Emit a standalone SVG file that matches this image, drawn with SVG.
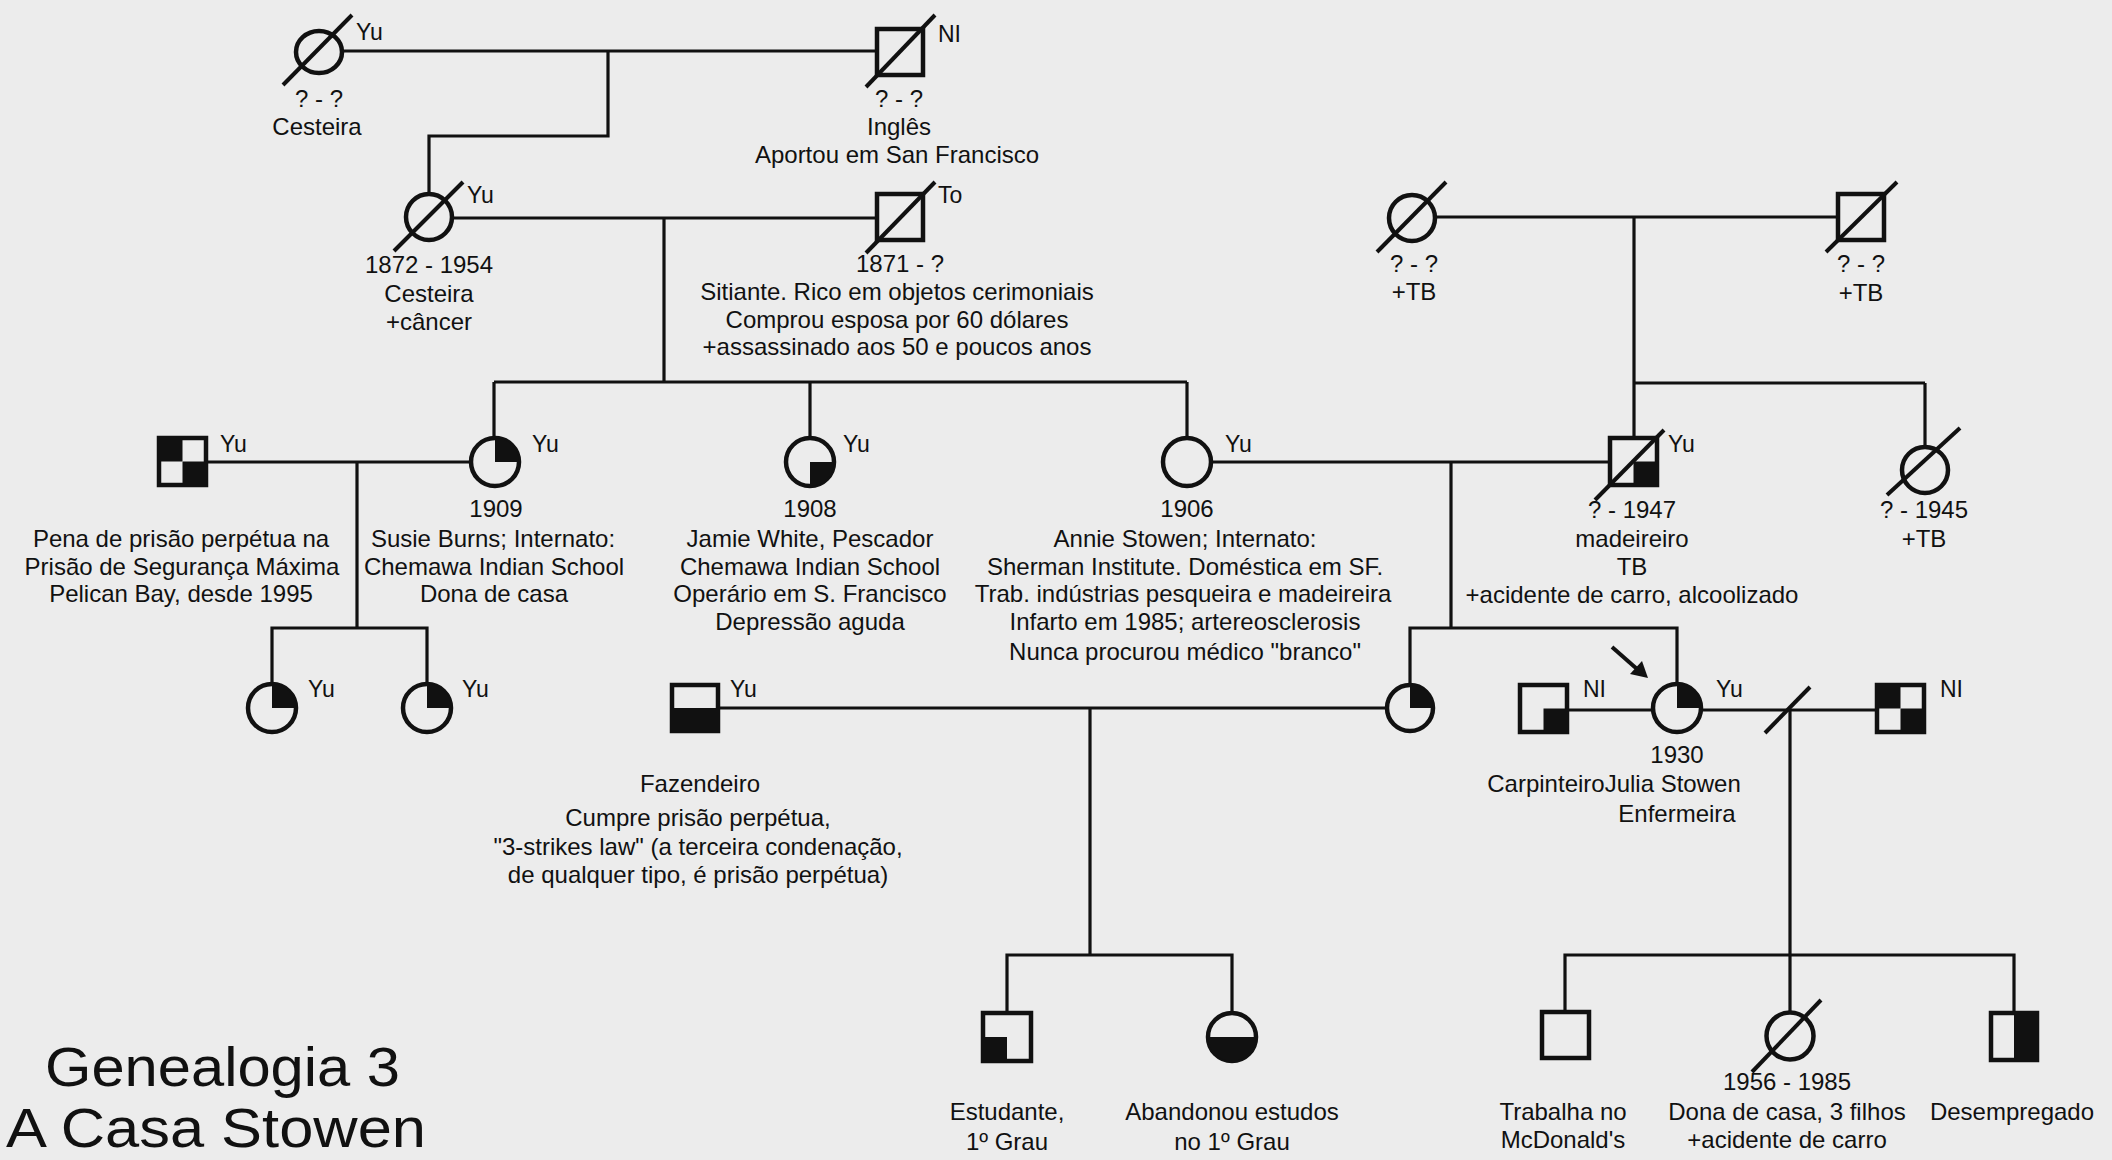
<svg xmlns="http://www.w3.org/2000/svg" width="2112" height="1160" viewBox="0 0 2112 1160">
<style>
.t{font-family:"Liberation Sans",Arial,sans-serif;font-size:24px;fill:#111;text-anchor:middle}
.l{font-family:"Liberation Sans",Arial,sans-serif;font-size:23px;fill:#111;text-anchor:start}
.title{font-family:"Liberation Sans",Arial,sans-serif;font-size:56px;fill:#111}
.n{fill:#ececec;stroke:#111;stroke-width:4.5}
.f{fill:#111;stroke:none}
.c{stroke:#111;stroke-width:3.2;fill:none}
.d{stroke:#111;stroke-width:4;stroke-linecap:butt}
</style>
<rect x="0" y="0" width="2112" height="1160" fill="#ececec"/>

<g id="connectors">
<line class="c" x1="342" y1="51" x2="877" y2="51"/>
<polyline class="c" points="608,51 608,136 429,136 429,194"/>
<line class="c" x1="452" y1="218" x2="877" y2="218"/>
<line class="c" x1="664" y1="218" x2="664" y2="382"/>
<line class="c" x1="494" y1="382" x2="1187" y2="382"/>
<line class="c" x1="494" y1="382" x2="494" y2="438"/>
<line class="c" x1="810" y1="382" x2="810" y2="438"/>
<line class="c" x1="1187" y1="382" x2="1187" y2="438"/>
<line class="c" x1="1435" y1="217" x2="1838" y2="217"/>
<line class="c" x1="1634" y1="217" x2="1634" y2="438"/>
<line class="c" x1="1634" y1="383" x2="1925" y2="383"/>
<line class="c" x1="1925" y1="383" x2="1925" y2="447"/>
<line class="c" x1="206" y1="462" x2="471" y2="462"/>
<line class="c" x1="357" y1="462" x2="357" y2="628"/>
<polyline class="c" points="272,684 272,628 427,628 427,684"/>
<line class="c" x1="1211" y1="462" x2="1610" y2="462"/>
<line class="c" x1="1451" y1="462" x2="1451" y2="628"/>
<polyline class="c" points="1410,685 1410,628 1677,628 1677,684"/>
<line class="c" x1="718" y1="708" x2="1387" y2="708"/>
<line class="c" x1="1090" y1="708" x2="1090" y2="955"/>
<polyline class="c" points="1007,1013 1007,955 1232,955 1232,1013"/>
<line class="c" x1="1567" y1="710" x2="1653" y2="710"/>
<line class="c" x1="1701" y1="710" x2="1877" y2="710"/>
<line class="d" x1="1765" y1="733" x2="1810" y2="687"/>
<line class="c" x1="1790" y1="710" x2="1790" y2="1012"/>
<polyline class="c" points="1565,1012 1565,955 2014,955 2014,1013"/>
<line class="d" x1="1612" y1="647" x2="1637" y2="669"/>
<polygon class="f" points="1648,678 1630,674 1642,661"/>
</g>

<g id="n-great-grandmother">
<ellipse class="n" cx="319" cy="52" rx="23" ry="21"/>
<line class="d" x1="283" y1="85" x2="352" y2="15"/>
<text class="l" x="356" y="40">Yu</text>
<text class="t" x="319" y="107">? - ?</text>
<text class="t" x="317" y="135">Cesteira</text>
</g>

<g id="n-english">
<rect class="n" x="877" y="29" width="46" height="46"/>
<line class="d" x1="866" y1="87" x2="935" y2="15"/>
<text class="l" x="938" y="42">NI</text>
<text class="t" x="899" y="107">? - ?</text>
<text class="t" x="899" y="135">Inglês</text>
<text class="t" x="897" y="163">Aportou em San Francisco</text>
</g>

<g id="n-grandmother">
<circle class="n" cx="429" cy="217" r="23"/>
<line class="d" x1="394" y1="251" x2="463" y2="182"/>
<text class="l" x="467" y="203">Yu</text>
<text class="t" x="429" y="273">1872 - 1954</text>
<text class="t" x="429" y="302">Cesteira</text>
<text class="t" x="429" y="330">+câncer</text>
</g>

<g id="n-grandfather">
<rect class="n" x="877" y="194" width="46" height="46"/>
<line class="d" x1="866" y1="253" x2="935" y2="182"/>
<text class="l" x="938" y="203">To</text>
<text class="t" x="900" y="272">1871 - ?</text>
<text class="t" x="897" y="300">Sitiante. Rico em objetos cerimoniais</text>
<text class="t" x="897" y="328">Comprou esposa por 60 dólares</text>
<text class="t" x="897" y="355">+assassinado aos 50 e poucos anos</text>
</g>

<g id="n-tb-mother">
<circle class="n" cx="1412" cy="218" r="23"/>
<line class="d" x1="1377" y1="252" x2="1446" y2="182"/>
<text class="t" x="1414" y="272">? - ?</text>
<text class="t" x="1414" y="300">+TB</text>
</g>

<g id="n-tb-father">
<rect class="n" x="1838" y="194" width="46" height="46"/>
<line class="d" x1="1826" y1="252" x2="1897" y2="182"/>
<text class="t" x="1861" y="272">? - ?</text>
<text class="t" x="1861" y="301">+TB</text>
</g>

<g id="n-prisoner">
<rect class="n" x="159" y="438" width="47" height="47"/>
<rect class="f" x="159" y="438" width="23.5" height="23.5"/>
<rect class="f" x="182.5" y="461.5" width="23.5" height="23.5"/>
<text class="l" x="220" y="452">Yu</text>
<text class="t" x="181" y="547">Pena de prisão perpétua na</text>
<text class="t" x="182" y="575">Prisão de Segurança Máxima</text>
<text class="t" x="181" y="602">Pelican Bay, desde 1995</text>
</g>

<g id="n-susie">
<circle class="n" cx="495" cy="462" r="24"/>
<path class="f" d="M495 462 L495 438 A24 24 0 0 1 519 462 Z"/>
<text class="l" x="532" y="452">Yu</text>
<text class="t" x="496" y="517">1909</text>
<text class="t" x="493" y="547">Susie Burns; Internato:</text>
<text class="t" x="494" y="575">Chemawa Indian School</text>
<text class="t" x="494" y="602">Dona de casa</text>
</g>

<g id="n-jamie">
<circle class="n" cx="810" cy="462" r="24"/>
<path class="f" d="M810 462 L834 462 A24 24 0 0 1 810 486 Z"/>
<text class="l" x="843" y="452">Yu</text>
<text class="t" x="810" y="517">1908</text>
<text class="t" x="810" y="547">Jamie White, Pescador</text>
<text class="t" x="810" y="575">Chemawa Indian School</text>
<text class="t" x="810" y="602">Operário em S. Francisco</text>
<text class="t" x="810" y="630">Depressão aguda</text>
</g>

<g id="n-annie">
<circle class="n" cx="1187" cy="462" r="24"/>
<text class="l" x="1225" y="452">Yu</text>
<text class="t" x="1187" y="517">1906</text>
<text class="t" x="1185" y="547">Annie Stowen; Internato:</text>
<text class="t" x="1185" y="575">Sherman Institute. Doméstica em SF.</text>
<text class="t" x="1183" y="602">Trab. indústrias pesqueira e madeireira</text>
<text class="t" x="1185" y="630">Infarto em 1985; artereosclerosis</text>
<text class="t" x="1185" y="660">Nunca procurou médico &quot;branco&quot;</text>
</g>

<g id="n-madeireiro">
<rect class="n" x="1610" y="438" width="47" height="47"/>
<rect class="f" x="1633.5" y="461.5" width="23.5" height="23.5"/>
<line class="d" x1="1595" y1="500" x2="1664" y2="430"/>
<text class="l" x="1668" y="452">Yu</text>
<text class="t" x="1632" y="518">? - 1947</text>
<text class="t" x="1632" y="547">madeireiro</text>
<text class="t" x="1632" y="575">TB</text>
<text class="t" x="1632" y="603">+acidente de carro, alcoolizado</text>
</g>

<g id="n-tb-daughter">
<circle class="n" cx="1925" cy="470" r="23"/>
<line class="d" x1="1887" y1="495" x2="1960" y2="428"/>
<text class="t" x="1924" y="518">? - 1945</text>
<text class="t" x="1924" y="547">+TB</text>
</g>

<g id="n-susie-d1">
<circle class="n" cx="272" cy="708" r="24"/>
<path class="f" d="M272 708 L272 684 A24 24 0 0 1 296 708 Z"/>
<text class="l" x="308" y="697">Yu</text>
</g>

<g id="n-susie-d2">
<circle class="n" cx="427" cy="708" r="24"/>
<path class="f" d="M427 708 L427 684 A24 24 0 0 1 451 708 Z"/>
<text class="l" x="462" y="697">Yu</text>
</g>

<g id="n-fazendeiro">
<rect class="n" x="672" y="685" width="46" height="46"/>
<rect class="f" x="672" y="708" width="46" height="23"/>
<text class="l" x="730" y="697">Yu</text>
<text class="t" x="700" y="792">Fazendeiro</text>
<text class="t" x="698" y="826">Cumpre prisão perpétua,</text>
<text class="t" x="698" y="855">&quot;3-strikes law&quot; (a terceira condenação,</text>
<text class="t" x="698" y="883">de qualquer tipo, é prisão perpétua)</text>
</g>

<g id="n-annie-daughter">
<circle class="n" cx="1410" cy="708" r="23"/>
<path class="f" d="M1410 708 L1410 685 A23 23 0 0 1 1433 708 Z"/>
</g>

<g id="n-carpinteiro">
<rect class="n" x="1520" y="685" width="47" height="47"/>
<rect class="f" x="1543.5" y="708.5" width="23.5" height="23.5"/>
<text class="l" x="1583" y="697">NI</text>
</g>

<g id="n-julia">
<circle class="n" cx="1677" cy="708" r="24"/>
<path class="f" d="M1677 708 L1677 684 A24 24 0 0 1 1701 708 Z"/>
<text class="l" x="1716" y="697">Yu</text>
<text class="t" x="1677" y="763">1930</text>
<text class="t" x="1614" y="792">CarpinteiroJulia Stowen</text>
<text class="t" x="1677" y="822">Enfermeira</text>
</g>

<g id="n-julia-husband2">
<rect class="n" x="1877" y="685" width="47" height="47"/>
<rect class="f" x="1877" y="685" width="23.5" height="23.5"/>
<rect class="f" x="1900.5" y="708.5" width="23.5" height="23.5"/>
<text class="l" x="1940" y="697">NI</text>
</g>

<g id="n-estudante">
<rect class="n" x="983" y="1013" width="48" height="48"/>
<rect class="f" x="983" y="1037" width="24" height="24"/>
<text class="t" x="1007" y="1120">Estudante,</text>
<text class="t" x="1007" y="1150">1º Grau</text>
</g>

<g id="n-abandonou">
<circle class="n" cx="1232" cy="1037" r="24"/>
<path class="f" d="M1208 1037 A24 24 0 0 0 1256 1037 Z"/>
<text class="t" x="1232" y="1120">Abandonou estudos</text>
<text class="t" x="1232" y="1150">no 1º Grau</text>
</g>

<g id="n-mcdonalds">
<rect class="n" x="1542" y="1012" width="47" height="46"/>
<text class="t" x="1563" y="1120">Trabalha no</text>
<text class="t" x="1563" y="1148">McDonald's</text>
</g>

<g id="n-dona-de-casa">
<circle class="n" cx="1790" cy="1036" r="23.5"/>
<line class="d" x1="1752" y1="1072" x2="1821" y2="1000"/>
<text class="t" x="1787" y="1090">1956 - 1985</text>
<text class="t" x="1787" y="1120">Dona de casa, 3 filhos</text>
<text class="t" x="1787" y="1148">+acidente de carro</text>
</g>

<g id="n-desempregado">
<rect class="n" x="1991" y="1013" width="46" height="47"/>
<rect class="f" x="2014" y="1013" width="23" height="47"/>
<text class="t" x="2012" y="1120">Desempregado</text>
</g>

<g id="title">
<text class="title" x="45" y="1086" textLength="355" lengthAdjust="spacingAndGlyphs">Genealogia 3</text>
<text class="title" x="6" y="1147" textLength="420" lengthAdjust="spacingAndGlyphs">A Casa Stowen</text>
</g>
</svg>
